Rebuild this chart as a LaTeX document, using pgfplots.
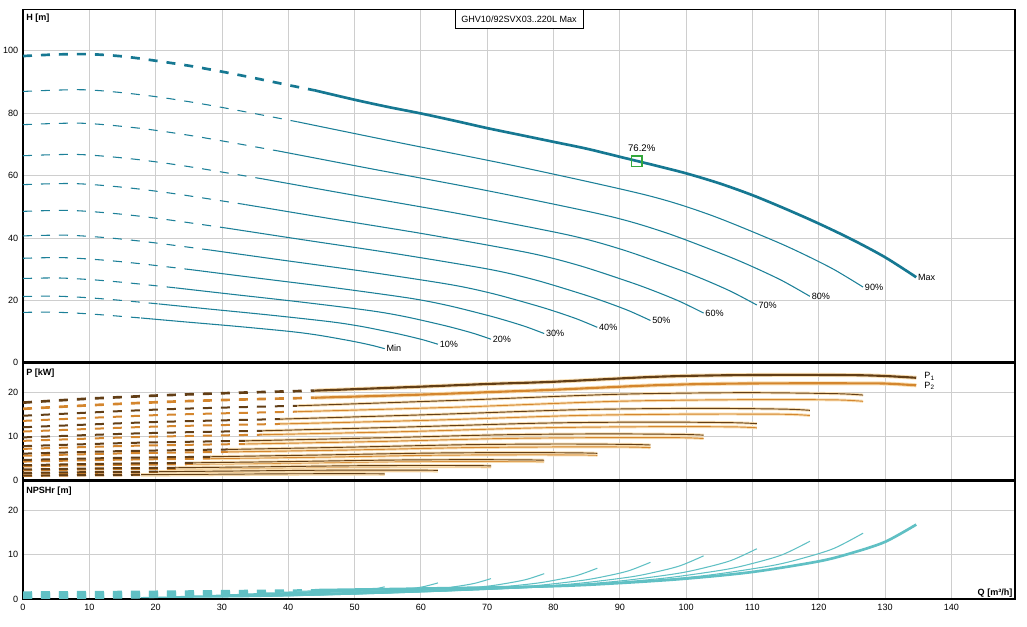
\documentclass[border=0pt]{standalone}
\usepackage{fontspec}
\setmainfont{Liberation Sans}
\usepackage{pgfplots}
\pgfplotsset{compat=1.18}
\definecolor{hcol}{RGB}{28,128,152}
\definecolor{hmax}{RGB}{22,120,146}
\definecolor{ncol}{RGB}{96,192,196}
\definecolor{pone}{RGB}{98,62,22}
\definecolor{ptwo}{RGB}{212,134,46}
\definecolor{halo}{RGB}{248,222,178}
\definecolor{gridc}{RGB}{206,206,206}
\definecolor{sqgreen}{RGB}{52,168,60}
\newcommand{\fs}{\fontsize{6.8}{8}\selectfont}
\tikzset{lab/.style={anchor=west, inner sep=1.2pt, font=\fs}}
\pgfplotsset{
  panel/.style={
    scale only axis, width=744pt, xmin=0, xmax=149.6,
    xtick={0,10,...,140}, grid=major,
    major grid style={draw=gridc, line width=0.6pt},
    major tick length=0pt, axis line style={line width=1.1pt},
    tick label style={font=\fs},
    /pgf/number format/assume math mode=true,
    anchor=south west,
  },
  hd/.style={no marks, smooth, color=hcol, line width=0.8pt, dash pattern=on 6.75pt off 6.75pt},
  hs/.style={no marks, smooth, color=hcol, line width=0.8pt},
  hmd/.style={hd, color=hmax, line width=2pt},
  hms/.style={hs, color=hmax, line width=2pt},
  p1d/.style={no marks, smooth, color=pone, line width=1.5pt, dash pattern=on 6.75pt off 6.75pt},
  p2d/.style={no marks, smooth, color=ptwo, line width=1.5pt, dash pattern=on 6.75pt off 6.75pt},
  p1s/.style={no marks, smooth, color=pone, line width=0.7pt, preaction={draw=halo, line width=2.2pt}},
  p2s/.style={no marks, smooth, color=ptwo, line width=0.7pt, preaction={draw=halo, line width=2.2pt}},
  nd/.style={no marks, smooth, color=ncol, line width=1.6pt, dash pattern=on 6.75pt off 6.75pt},
  ns/.style={no marks, smooth, color=ncol, line width=0.8pt},
  nms/.style={no marks, smooth, color=ncol, line width=2pt},
}
\begin{document}
\begin{tikzpicture}
\useasboundingbox (0,0) rectangle (770.25pt,469.5pt);
% ================= H panel =================
\begin{axis}[panel, name=h, at={(17.25pt,197.5pt)}, height=265.05pt,
  ymin=0, ymax=113.3, ytick={0,20,...,100}, xticklabels={}]
% Min
\addplot[hd] coordinates {(0,16.12)(4.05,16.22)(8.1,15.88)(12.15,15.30)(17.82,14.32)};
\addplot[hs] coordinates {(17.82,14.32)(24.3,13.10)(32.4,11.61)(40.5,9.95)(44.55,8.81)(48.6,7.31)(50.63,6.48)(52.65,5.54)(54.55,4.49)};
% 10%
\addplot[hd] coordinates {(0,21.21)(4.65,21.34)(9.29,20.89)(13.94,20.13)(20.44,18.84)};
\addplot[hs] coordinates {(20.44,18.84)(27.87,17.24)(37.16,15.28)(46.45,13.10)(51.1,11.59)(55.74,9.62)(58.06,8.52)(60.39,7.29)(62.57,5.91)};
% 20%
\addplot[hd] coordinates {(0,26.99)(5.24,27.16)(10.48,26.58)(15.72,25.62)(23.06,23.97)};
\addplot[hs] coordinates {(23.06,23.97)(31.44,21.94)(41.92,19.44)(52.4,16.67)(57.64,14.75)(62.88,12.25)(65.5,10.85)(68.12,9.28)(70.58,7.52)};
% 30%
\addplot[hd] coordinates {(0,33.47)(5.84,33.68)(11.67,32.96)(17.51,31.77)(25.67,29.73)};
\addplot[hs] coordinates {(25.67,29.73)(35.01,27.21)(46.68,24.11)(58.35,20.67)(64.19,18.28)(70.02,15.19)(72.94,13.45)(75.86,11.51)(78.6,9.33)};
% 40%
\addplot[hd] coordinates {(0,40.64)(6.43,40.88)(12.86,40.02)(19.29,38.57)(28.29,36.09)};
\addplot[hs] coordinates {(28.29,36.09)(38.58,33.03)(51.44,29.27)(64.3,25.09)(70.73,22.20)(77.16,18.44)(80.38,16.33)(83.59,13.97)(86.61,11.33)};
% 50%
\addplot[hd] coordinates {(0,48.51)(7.03,48.81)(14.05,47.77)(21.08,46.04)(30.91,43.08)};
\addplot[hs] coordinates {(30.91,43.08)(42.15,39.43)(56.2,34.94)(70.25,29.96)(77.28,26.50)(84.3,22.01)(87.81,19.49)(91.33,16.68)(94.63,13.52)};
% 60%
\addplot[hd] coordinates {(0,57.07)(7.62,57.42)(15.24,56.20)(22.86,54.17)(33.53,50.69)};
\addplot[hs] coordinates {(33.53,50.69)(45.72,46.39)(60.96,41.11)(76.2,35.24)(83.82,31.18)(91.44,25.89)(95.25,22.93)(99.06,19.62)(102.64,15.91)};
% 70%
\addplot[hd] coordinates {(0,66.34)(8.22,66.75)(16.43,65.33)(24.65,62.97)(36.15,58.92)};
\addplot[hs] coordinates {(36.15,58.92)(49.29,53.92)(65.72,47.78)(82.15,40.97)(90.37,36.24)(98.58,30.10)(102.69,26.66)(106.8,22.81)(110.66,18.49)};
% 80%
\addplot[hd] coordinates {(0,76.30)(8.81,76.77)(17.62,75.14)(26.43,72.42)(38.76,67.76)};
\addplot[hs] coordinates {(38.76,67.76)(52.86,62.02)(70.48,54.95)(88.1,47.12)(96.91,41.68)(105.72,34.62)(110.13,30.66)(114.53,26.24)(118.67,21.27)};
% 90%
\addplot[hd] coordinates {(0,86.95)(9.41,87.48)(18.81,85.62)(28.22,82.52)(41.38,77.22)};
\addplot[hs] coordinates {(41.38,77.22)(56.43,70.67)(75.24,62.62)(94.05,53.69)(103.46,47.50)(112.86,39.45)(117.56,34.94)(122.27,29.90)(126.69,24.24)};
% Max
\addplot[hmd] coordinates {(0,98.3)(5,98.8)(10,98.9)(15,98.2)(20,96.8)(25,95.2)(30,93.3)(35,91.2)(40,89.0)(44,87.3)};
\addplot[hms] coordinates {(44,87.3)(50,84.3)(55,82.0)(60,79.9)(65,77.6)(70,75.2)(75,73.0)(80,70.8)(85,68.6)(90,66.0)(95,63.4)(100,60.7)(105,57.5)(110,53.7)(115,49.3)(120,44.6)(125,39.5)(130,33.8)(134.7,27.4)};
% duty point
\addplot[only marks, mark=square, mark size=4pt, mark options={draw=sqgreen, line width=1.1pt}] coordinates {(92.55,64.6)};
\node[font=\fontsize{7.2}{8}\selectfont, xshift=3.75pt, yshift=9.75pt] at (axis cs:92.55,64.6) {76.2\%};
% curve labels
\node[lab] at (axis cs:54.55,4.49) {Min};
\node[lab] at (axis cs:62.57,5.91) {10\%};
\node[lab] at (axis cs:70.58,7.52) {20\%};
\node[lab] at (axis cs:78.6,9.33) {30\%};
\node[lab] at (axis cs:86.61,11.33) {40\%};
\node[lab] at (axis cs:94.63,13.52) {50\%};
\node[lab] at (axis cs:102.64,15.91) {60\%};
\node[lab] at (axis cs:110.66,18.49) {70\%};
\node[lab] at (axis cs:118.67,21.27) {80\%};
\node[lab] at (axis cs:126.69,24.24) {90\%};
\node[lab] at (axis cs:134.7,27.4) {Max};
\node[anchor=west, inner sep=0, font=\fs\bfseries, xshift=2.25pt, yshift=-6.5pt] at (rel axis cs:0,1) {H [m]};
\node[draw, fill=white, line width=0.6pt, minimum width=96pt, minimum height=14.25pt, inner sep=0, anchor=north, font=\fs] at (rel axis cs:0.5,1) {GHV10/92SVX03..220L Max};
\end{axis}
% ================= P panel =================
\begin{axis}[panel, name=p, at={(17.25pt,108.98pt)}, height=88.5pt,
  ymin=0, ymax=26.6, ytick={0,10,20}, xticklabels={}]
% dashed parts
\addplot[p2d] coordinates {(0,1.08)(8.91,1.18)(17.82,1.24)};
\addplot[p1d] coordinates {(0,1.17)(8.91,1.28)(17.82,1.35)};
\addplot[p2d] coordinates {(0,1.62)(10.22,1.78)(20.44,1.87)};
\addplot[p1d] coordinates {(0,1.76)(10.22,1.93)(20.44,2.03)};
\addplot[p2d] coordinates {(0,2.33)(11.53,2.56)(23.06,2.69)};
\addplot[p1d] coordinates {(0,2.53)(11.53,2.78)(23.06,2.92)};
\addplot[p2d] coordinates {(0,3.22)(12.84,3.54)(25.67,3.72)};
\addplot[p1d] coordinates {(0,3.50)(12.84,3.83)(25.67,4.03)};
\addplot[p2d] coordinates {(0,4.31)(14.15,4.73)(28.29,4.97)};
\addplot[p1d] coordinates {(0,4.68)(14.15,5.13)(28.29,5.40)};
\addplot[p2d] coordinates {(0,5.62)(15.46,6.17)(30.91,6.48)};
\addplot[p1d] coordinates {(0,6.10)(15.46,6.69)(30.91,7.04)};
\addplot[p2d] coordinates {(0,7.17)(16.76,7.88)(33.53,8.27)};
\addplot[p1d] coordinates {(0,7.79)(16.76,8.54)(33.53,8.98)};
\addplot[p2d] coordinates {(0,8.98)(18.07,9.87)(36.15,10.37)};
\addplot[p1d] coordinates {(0,9.76)(18.07,10.70)(36.15,11.25)};
\addplot[p2d] coordinates {(0,11.08)(19.38,12.17)(38.76,12.79)};
\addplot[p1d] coordinates {(0,12.04)(19.38,13.20)(38.76,13.88)};
\addplot[p2d] coordinates {(0,13.48)(20.69,14.81)(41.38,15.56)};
\addplot[p1d] coordinates {(0,14.64)(20.69,16.06)(41.38,16.89)};
\addplot[p2d, line width=2pt] coordinates {(0,16.2)(10,17.0)(22,17.8)(33,18.3)(44,18.7)};
\addplot[p1d, line width=2pt] coordinates {(0,17.6)(10,18.5)(22,19.3)(33,19.85)(44,20.3)};
% solid parts
\addplot[p2s] coordinates {(17.82,1.24)(28.35,1.33)(38.48,1.43)(46.58,1.46)(52.65,1.46)(54.55,1.43)};
\addplot[p1s] coordinates {(17.82,1.35)(28.35,1.45)(38.48,1.55)(46.58,1.58)(52.65,1.57)(54.55,1.54)};
\addplot[p2s] coordinates {(20.44,1.87)(32.52,2.00)(44.13,2.16)(53.42,2.20)(60.39,2.20)(62.57,2.16)};
\addplot[p1s] coordinates {(20.44,2.03)(32.52,2.19)(44.13,2.35)(53.42,2.39)(60.39,2.37)(62.57,2.33)};
\addplot[p2s] coordinates {(23.06,2.69)(36.68,2.87)(49.78,3.09)(60.26,3.16)(68.12,3.15)(70.58,3.09)};
\addplot[p1s] coordinates {(23.06,2.92)(36.68,3.14)(49.78,3.37)(60.26,3.43)(68.12,3.40)(70.58,3.34)};
\addplot[p2s] coordinates {(25.67,3.72)(40.85,3.96)(55.43,4.27)(67.10,4.36)(75.86,4.35)(78.60,4.27)};
\addplot[p1s] coordinates {(25.67,4.03)(40.85,4.33)(55.43,4.65)(67.10,4.74)(75.86,4.69)(78.60,4.61)};
\addplot[p2s] coordinates {(28.29,4.97)(45.01,5.30)(61.09,5.72)(73.95,5.84)(83.59,5.82)(86.61,5.72)};
\addplot[p1s] coordinates {(28.29,5.40)(45.01,5.80)(61.09,6.22)(73.95,6.34)(83.59,6.27)(86.61,6.17)};
\addplot[p2s] coordinates {(30.91,6.48)(49.18,6.92)(66.74,7.45)(80.79,7.61)(91.33,7.59)(94.63,7.45)};
\addplot[p1s] coordinates {(30.91,7.04)(49.18,7.56)(66.74,8.11)(80.79,8.27)(91.33,8.18)(94.63,8.04)};
\addplot[p2s] coordinates {(33.53,8.27)(53.34,8.83)(72.39,9.51)(87.63,9.71)(99.06,9.69)(102.64,9.51)};
\addplot[p1s] coordinates {(33.53,8.98)(53.34,9.65)(72.39,10.35)(87.63,10.55)(99.06,10.44)(102.64,10.27)};
\addplot[p2s] coordinates {(36.15,10.37)(57.51,11.06)(78.04,11.92)(94.47,12.17)(106.80,12.14)(110.66,11.92)};
\addplot[p1s] coordinates {(36.15,11.25)(57.51,12.09)(78.04,12.97)(94.47,13.22)(106.80,13.08)(110.66,12.86)};
\addplot[p2s] coordinates {(38.76,12.79)(61.67,13.64)(83.70,14.70)(101.32,15.01)(114.53,14.98)(118.67,14.70)};
\addplot[p1s] coordinates {(38.76,13.88)(61.67,14.91)(83.70,16.00)(101.32,16.31)(114.53,16.14)(118.67,15.86)};
\addplot[p2s] coordinates {(41.38,15.56)(65.84,16.60)(89.35,17.89)(108.16,18.26)(122.27,18.22)(126.69,17.89)};
\addplot[p1s] coordinates {(41.38,16.89)(65.84,18.14)(89.35,19.47)(108.16,19.84)(122.27,19.63)(126.69,19.30)};
\addplot[p2s, line width=1.6pt, preaction={draw=halo, line width=3pt}] coordinates {(44,18.7)(60,19.4)(70,19.95)(80,20.5)(95,21.5)(105,21.85)(115,21.95)(125,21.95)(130,21.9)(134.7,21.5)};
\addplot[p1s, line width=1.6pt, preaction={draw=halo, line width=3pt}] coordinates {(44,20.3)(60,21.2)(70,21.8)(80,22.3)(95,23.4)(105,23.75)(115,23.85)(125,23.8)(130,23.6)(134.7,23.2)};
\node[anchor=west, inner sep=0, font=\fs, xshift=6pt, yshift=1pt] at (axis cs:134.7,23.2) {P\textsubscript{1}};
\node[anchor=west, inner sep=0, font=\fs, xshift=6pt, yshift=-0.3pt] at (axis cs:134.7,21.5) {P\textsubscript{2}};
\node[anchor=west, inner sep=0, font=\fs\bfseries, xshift=2.25pt, yshift=-8pt] at (rel axis cs:0,1) {P [kW]};
\end{axis}
% ================= NPSH panel =================
\begin{axis}[panel, name=n, at={(17.25pt,20.25pt)}, height=88.7pt,
  ymin=0, ymax=26.7, ytick={0,10,20}]
% dashed parts
\addplot[nd] coordinates {(0,0.25)(8.91,0.28)(17.82,0.33)};
\addplot[nd] coordinates {(0,0.32)(10.22,0.37)(20.44,0.43)};
\addplot[nd] coordinates {(0,0.41)(11.53,0.47)(23.06,0.55)};
\addplot[nd] coordinates {(0,0.51)(12.84,0.58)(25.67,0.68)};
\addplot[nd] coordinates {(0,0.62)(14.15,0.70)(28.29,0.83)};
\addplot[nd] coordinates {(0,0.74)(15.46,0.84)(30.91,0.99)};
\addplot[nd] coordinates {(0,0.87)(16.76,0.99)(33.53,1.16)};
\addplot[nd] coordinates {(0,1.01)(18.07,1.15)(36.15,1.35)};
\addplot[nd] coordinates {(0,1.16)(19.38,1.32)(38.76,1.55)};
\addplot[nd] coordinates {(0,1.33)(20.69,1.50)(41.38,1.77)};
\addplot[nd] coordinates {(0,1.5)(22,1.7)(44,2.0)};
% solid parts
\addplot[ns] coordinates {(17.82,0.33)(24.3,0.39)(32.4,0.48)(36.45,0.59)(40.5,0.75)(44.55,1.00)(48.6,1.39)(50.63,1.71)(52.65,2.12)(54.55,2.76)};
\addplot[ns] coordinates {(20.44,0.43)(27.87,0.51)(37.16,0.63)(41.81,0.78)(46.45,0.99)(51.1,1.32)(55.74,1.83)(58.06,2.24)(60.39,2.78)(62.57,3.63)};
\addplot[ns] coordinates {(23.06,0.55)(31.44,0.65)(41.92,0.80)(47.16,0.99)(52.4,1.26)(57.64,1.68)(62.88,2.33)(65.5,2.86)(68.12,3.54)(70.58,4.61)};
\addplot[ns] coordinates {(25.67,0.68)(35.01,0.80)(46.68,0.99)(52.52,1.23)(58.35,1.57)(64.19,2.08)(70.02,2.89)(72.94,3.54)(75.86,4.39)(78.6,5.72)};
\addplot[ns] coordinates {(28.29,0.83)(38.58,0.97)(51.44,1.20)(57.87,1.49)(64.3,1.90)(70.73,2.52)(77.16,3.51)(80.38,4.30)(83.59,5.33)(86.61,6.95)};
\addplot[ns] coordinates {(30.91,0.99)(42.15,1.16)(56.2,1.43)(63.23,1.78)(70.25,2.27)(77.28,3.01)(84.3,4.20)(87.81,5.13)(91.33,6.37)(94.63,8.29)};
\addplot[ns] coordinates {(33.53,1.16)(45.72,1.36)(60.96,1.68)(68.58,2.09)(76.2,2.67)(83.82,3.54)(91.44,4.94)(95.25,6.04)(99.06,7.49)(102.64,9.75)};
\addplot[ns] coordinates {(36.15,1.35)(49.29,1.59)(65.72,1.96)(73.94,2.43)(82.15,3.11)(90.37,4.12)(98.58,5.74)(102.69,7.02)(106.8,8.71)(110.66,11.34)};
\addplot[ns] coordinates {(38.76,1.55)(52.86,1.82)(70.48,2.25)(79.29,2.79)(88.1,3.57)(96.91,4.74)(105.72,6.60)(110.13,8.07)(114.53,10.01)(118.67,13.04)};
\addplot[ns] coordinates {(41.38,1.77)(56.43,2.08)(75.24,2.57)(84.65,3.18)(94.05,4.07)(103.46,5.40)(112.86,7.52)(117.56,9.20)(122.27,11.41)(126.69,14.86)};
\addplot[nms] coordinates {(44,2.0)(60,2.35)(80,2.9)(90,3.6)(100,4.6)(110,6.1)(120,8.5)(125,10.4)(130,12.9)(134.7,16.8)};
\node[anchor=west, inner sep=0, font=\fs\bfseries, xshift=2.25pt, yshift=-7.7pt] at (rel axis cs:0,1) {NPSHr [m]};
\node[anchor=east, inner sep=0, font=\fs\bfseries, xshift=-1.7pt, yshift=4.7pt] at (rel axis cs:1,0) {Q [m³/h]};
\end{axis}
\draw[line width=2.3pt] (h.south west) -- (h.south east);
\draw[line width=2.3pt] (p.south west) -- (p.south east);
\end{tikzpicture}
\end{document}
